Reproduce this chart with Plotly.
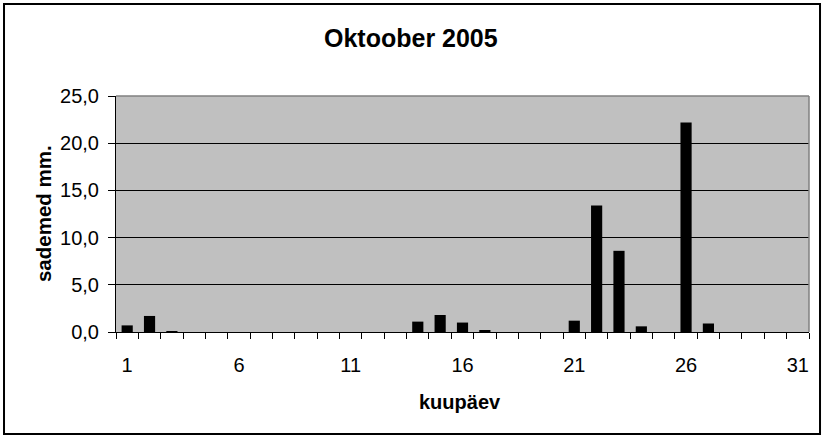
import plotly.graph_objects as go

days = list(range(1, 32))
rain = [0.7, 1.7, 0.1, 0, 0, 0, 0, 0, 0, 0,
        0, 0, 0, 1.1, 1.8, 1.0, 0.2, 0, 0, 0,
        1.2, 13.4, 8.6, 0.6, 0, 22.2, 0.9, 0, 0, 0, 0]
x_tick_vals = [1, 6, 11, 16, 21, 26, 31]
y_tick_vals = [0, 5, 10, 15, 20, 25]
title_text = "Oktoober 2005"
x_title = "kuupäev"
y_title = "sademed mm."

FONT = "Liberation Sans, Arial, sans-serif"

fig = go.Figure()
fig.add_trace(go.Bar(x=days, y=rain, width=0.5, marker=dict(color="black", line=dict(width=0))))

fig.update_layout(
    width=825, height=439,
    margin=dict(l=116, r=16, t=96, b=107),
    paper_bgcolor="white", plot_bgcolor="#C0C0C0",
    separators=",.",
    showlegend=False,
    font=dict(family=FONT, color="black"),
    xaxis=dict(
        range=[0.5, 31.5], tickmode="array", tickvals=x_tick_vals,
        ticks="", ticklabelstandoff=15, tickfont=dict(size=20),
        showgrid=False, zeroline=False,
        showline=True, linecolor="black", linewidth=1,
        minor=dict(tickmode="linear", tick0=0.5, dtick=1, ticks="outside",
                   ticklen=6, tickcolor="black", tickwidth=1, showgrid=False),
    ),
    yaxis=dict(
        range=[0, 25], tickmode="array", tickvals=y_tick_vals, tickformat=".1f",
        ticks="outside", ticklen=7, tickcolor="black", tickwidth=1,
        ticklabelstandoff=5, tickfont=dict(size=20),
        showgrid=True, gridcolor="black", gridwidth=1, zeroline=False,
        showline=True, linecolor="black", linewidth=1,
    ),
    annotations=[
        dict(text="<b>%s</b>" % title_text, xref="paper", yref="paper",
             x=0.4257, y=1.2458, xanchor="center", yanchor="middle",
             showarrow=False, font=dict(size=25, family=FONT)),
        dict(text="<b>%s</b>" % x_title, xref="paper", yref="paper",
             x=0.4964, y=-0.2966, xanchor="center", yanchor="middle",
             showarrow=False, font=dict(size=20, family=FONT)),
        dict(text="<b>%s</b>" % y_title, xref="paper", yref="paper",
             x=-0.1053, y=0.50, xanchor="center", yanchor="middle",
             textangle=-90, showarrow=False, font=dict(size=20.5, family=FONT)),
    ],
    shapes=[
        dict(type="line", xref="paper", yref="paper", x0=0, x1=1, y0=1, y1=1,
             line=dict(color="#808080", width=1.5), layer="above"),
        dict(type="line", xref="paper", yref="paper", x0=1, x1=1, y0=0, y1=1,
             line=dict(color="#808080", width=1.5), layer="above"),
        dict(type="rect", xref="paper", yref="paper", x0=-0.1616, x1=1.0159,
             y0=-0.4322, y1=1.3898, line=dict(color="black", width=2),
             fillcolor="rgba(0,0,0,0)", layer="above"),
    ],
)

fig.write_html("out.html", config={"displayModeBar": False},
               post_script="document.body.style.margin='0';document.body.style.overflow='hidden';")
